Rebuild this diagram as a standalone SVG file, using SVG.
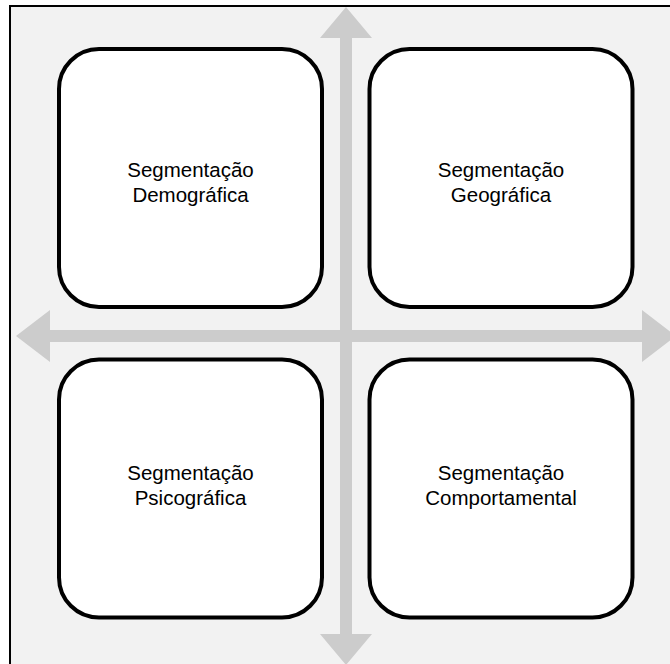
<svg xmlns="http://www.w3.org/2000/svg" width="670" height="664" viewBox="0 0 670 664">
<style>
.box{fill:#ffffff;stroke:#000000;stroke-width:4}
.lbl{font-family:"Liberation Sans",Arial,sans-serif;font-size:20.5px;fill:#000000;text-anchor:middle}
.arr{fill:#cccccc;stroke:none}
</style>
<rect x="0" y="0" width="670" height="664" fill="#ffffff"/>
<rect x="10" y="6" width="700" height="700" fill="#f2f2f2" stroke="#000000" stroke-width="2"/>
<g id="connectors">
<polygon class="arr" points="346,7 372,38 352,38 352,330 642,330 642,310 676,336 642,362 642,342 352,342 352,634 372,634 346,665 320,634 340,634 340,342 50,342 50,362 16,336 50,310 50,330 340,330 340,38 320,38"/>
</g>
<g id="n1">
<rect class="box" x="59" y="49" width="263" height="258" rx="40" ry="40"/>
<text class="lbl" x="190.5" y="176.5">Segmentação</text>
<text class="lbl" x="190.5" y="201.5">Demográfica</text>
</g>
<g id="n2">
<rect class="box" x="369.5" y="49" width="263" height="258" rx="40" ry="40"/>
<text class="lbl" x="501" y="176.5">Segmentação</text>
<text class="lbl" x="501" y="201.5">Geográfica</text>
</g>
<g id="n3">
<rect class="box" x="59" y="359.5" width="263" height="258" rx="40" ry="40"/>
<text class="lbl" x="190.5" y="480">Segmentação</text>
<text class="lbl" x="190.5" y="505">Psicográfica</text>
</g>
<g id="n4">
<rect class="box" x="369.5" y="359.5" width="263" height="258" rx="40" ry="40"/>
<text class="lbl" x="501" y="480">Segmentação</text>
<text class="lbl" x="501" y="505">Comportamental</text>
</g>
</svg>
